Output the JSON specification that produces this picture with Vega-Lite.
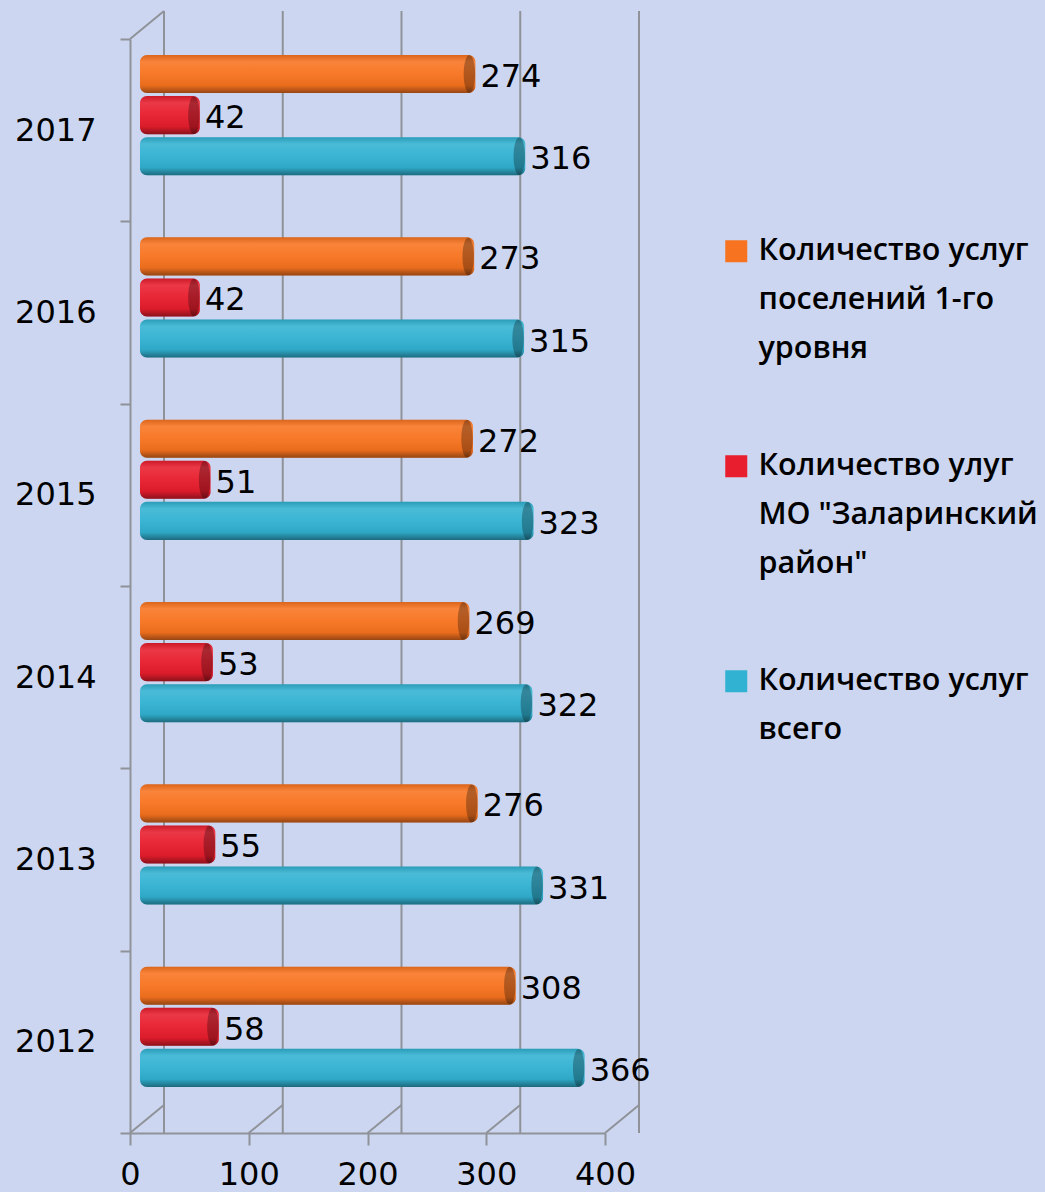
{
  "$schema": "https://vega.github.io/schema/vega-lite/v6.json",
  "width": 475,
  "height": 1094,
  "autosize": {"type": "none"},
  "padding": {"left": 130, "top": 39, "right": 440, "bottom": 59},
  "background": "#ccd6f0",
  "config": {"view": {"stroke": null}, "font": "DejaVu Sans", "style": {"guide-label": {"lineHeight": 49}}},
  "data": {
    "values": [
      {"year": "2017", "series": "Количество услуг поселений 1-го уровня", "value": 274},
      {"year": "2017", "series": "Количество улуг МО \"Заларинский район\"", "value": 42},
      {"year": "2017", "series": "Количество услуг всего", "value": 316},
      {"year": "2016", "series": "Количество услуг поселений 1-го уровня", "value": 273},
      {"year": "2016", "series": "Количество улуг МО \"Заларинский район\"", "value": 42},
      {"year": "2016", "series": "Количество услуг всего", "value": 315},
      {"year": "2015", "series": "Количество услуг поселений 1-го уровня", "value": 272},
      {"year": "2015", "series": "Количество улуг МО \"Заларинский район\"", "value": 51},
      {"year": "2015", "series": "Количество услуг всего", "value": 323},
      {"year": "2014", "series": "Количество услуг поселений 1-го уровня", "value": 269},
      {"year": "2014", "series": "Количество улуг МО \"Заларинский район\"", "value": 53},
      {"year": "2014", "series": "Количество услуг всего", "value": 322},
      {"year": "2013", "series": "Количество услуг поселений 1-го уровня", "value": 276},
      {"year": "2013", "series": "Количество улуг МО \"Заларинский район\"", "value": 55},
      {"year": "2013", "series": "Количество услуг всего", "value": 331},
      {"year": "2012", "series": "Количество услуг поселений 1-го уровня", "value": 308},
      {"year": "2012", "series": "Количество улуг МО \"Заларинский район\"", "value": 58},
      {"year": "2012", "series": "Количество услуг всего", "value": 366}
    ]
  },
  "layer": [
    {
      "data": {"values": [{"tick": 0}, {"tick": 100}, {"tick": 200}, {"tick": 300}, {"tick": 400}]},
      "mark": {"type": "rule", "color": "#8f9399", "strokeWidth": 2, "xOffset": 34, "yOffset": -28, "y2Offset": -28},
      "encoding": {
        "x": {"field": "tick", "type": "quantitative", "title": null,
          "scale": {"domain": [0, 400], "nice": false},
          "axis": {"values": [0, 100, 200, 300, 400], "grid": false, "domainColor": "#8f9399", "domainWidth": 2,
            "tickColor": "#8f9399", "tickWidth": 2, "tickSize": 12, "labelFontSize": 32, "labelColor": "#000000",
            "labelPadding": 14, "labelFlush": false, "labelOverlap": false}}
      }
    },
    {
      "data": {"values": [{"tick": 0}, {"tick": 100}, {"tick": 200}, {"tick": 300}, {"tick": 400}]},
      "mark": {"type": "rule", "color": "#8f9399", "strokeWidth": 2, "x2Offset": 34, "y2Offset": -28},
      "encoding": {
        "x": {"field": "tick", "type": "quantitative", "title": null},
        "x2": {"field": "tick"},
        "y": {"value": "height"},
        "y2": {"value": "height"}
      }
    },
    {
      "data": {"values": [{"tick": 0}]},
      "mark": {"type": "rule", "color": "#8f9399", "strokeWidth": 2, "x2Offset": 34, "y2Offset": -28},
      "encoding": {
        "x": {"field": "tick", "type": "quantitative", "title": null},
        "x2": {"field": "tick"},
        "y": {"value": 0},
        "y2": {"value": 0}
      }
    },
    {
      "mark": {"type": "bar", "xOffset": 20, "x2Offset": 10, "cornerRadius": 7},
      "encoding": {
        "x": {"field": "value", "type": "quantitative", "title": null},
        "x2": {"datum": 0},
        "y": {"field": "year", "type": "nominal", "title": null,
          "scale": {"domain": ["2017", "2016", "2015", "2014", "2013", "2012"], "paddingInner": 0, "paddingOuter": 0},
          "axis": {"domainColor": "#8f9399", "domainWidth": 2, "tickColor": "#8f9399", "tickWidth": 2, "tickSize": 10,
            "tickBand": "extent", "labelFontSize": 32, "labelColor": "#000000", "labelPadding": 24}},
        "yOffset": {"field": "series", "type": "nominal",
          "scale": {"domain": ["Количество услуг поселений 1-го уровня", "Количество улуг МО \"Заларинский район\"", "Количество услуг всего"],
            "paddingInner": 0.073, "paddingOuter": 0.756, "align": 0.258}},
        "color": {"field": "series", "type": "nominal",
          "scale": {"domain": ["Количество услуг поселений 1-го уровня", "Количество улуг МО \"Заларинский район\"", "Количество услуг всего"],
            "range": ["#f8731f", "#e81d2d", "#31b2d2"]},
          "legend": {"orient": "none", "legendX": 591, "legendY": 197, "title": null, "symbolType": "square",
            "symbolSize": 484, "symbolStrokeWidth": 0, "symbolOpacity": 1, "labelFontSize": 30.5, "labelOffset": 7,
            "labelFont": "Open Sans", "labelFontWeight": 600,
            "labelLimit": 400, "rowPadding": 86, "padding": 0, "labelBaseline": "middle", "labelColor": "#000000",
            "labelExpr": "datum.value == 'Количество услуг всего' ? ['Количество услуг', 'всего'] : datum.value == 'Количество услуг поселений 1-го уровня' ? ['Количество услуг', 'поселений 1-го', 'уровня'] : ['Количество улуг', 'МО \"Заларинский', 'район\"']"}}
      }
    },
    {
      "mark": {"type": "bar", "xOffset": 20, "x2Offset": 10, "cornerRadius": 7,
        "fill": {"gradient": "linear", "x1": 0, "y1": 0, "x2": 0, "y2": 1,
          "stops": [
            {"offset": 0, "color": "rgba(0,0,0,0.12)"},
            {"offset": 0.18, "color": "rgba(255,255,255,0.12)"},
            {"offset": 0.45, "color": "rgba(255,255,255,0.05)"},
            {"offset": 0.8, "color": "rgba(0,0,0,0.06)"},
            {"offset": 1, "color": "rgba(0,0,0,0.4)"}
          ]}},
      "encoding": {
        "x": {"field": "value", "type": "quantitative", "title": null},
        "x2": {"datum": 0},
        "y": {"field": "year", "type": "nominal", "title": null},
        "yOffset": {"field": "series", "type": "nominal"}
      }
    },
    {
      "mark": {"type": "point", "shape": "M0,-1A0.3,1,0,1,1,0,1A0.3,1,0,1,1,0,-1Z", "size": 1444, "filled": true,
        "fill": "#000000", "fillOpacity": 0.28, "strokeWidth": 0, "xOffset": 14},
      "encoding": {
        "x": {"field": "value", "type": "quantitative", "title": null},
        "y": {"field": "year", "type": "nominal", "title": null},
        "yOffset": {"field": "series", "type": "nominal"}
      }
    },
    {
      "mark": {"type": "text", "align": "left", "baseline": "middle", "xOffset": 25, "dy": 3, "fontSize": 32, "color": "#000000"},
      "encoding": {
        "x": {"field": "value", "type": "quantitative", "title": null},
        "y": {"field": "year", "type": "nominal", "title": null},
        "yOffset": {"field": "series", "type": "nominal"},
        "text": {"field": "value", "type": "quantitative"}
      }
    }
  ]
}
